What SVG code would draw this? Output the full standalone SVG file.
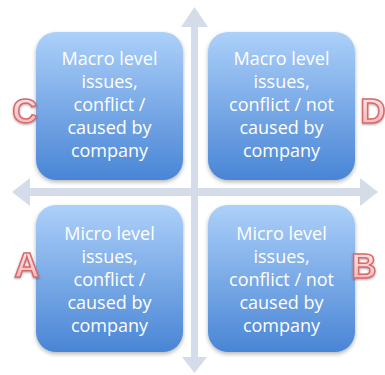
<svg xmlns="http://www.w3.org/2000/svg" width="385" height="375" viewBox="0 0 385 375">
  <defs>
    <linearGradient id="boxFill" x1="0" y1="0" x2="0" y2="1">
      <stop offset="0" stop-color="#acd0f9"/>
      <stop offset="1" stop-color="#4985d5"/>
    </linearGradient>
    <linearGradient id="letterFill" x1="0" y1="0" x2="0" y2="1">
      <stop offset="0" stop-color="#fdeeee"/>
      <stop offset="1" stop-color="#f3b0b2"/>
    </linearGradient>
    <filter id="shadow" x="-10%" y="-10%" width="125%" height="125%">
      <feGaussianBlur in="SourceAlpha" stdDeviation="2"/>
      <feOffset dx="0" dy="2" result="b"/>
      <feComponentTransfer><feFuncA type="linear" slope="0.3"/></feComponentTransfer>
      <feMerge><feMergeNode/><feMergeNode in="SourceGraphic"/></feMerge>
    </filter>
    <filter id="glow" x="-30%" y="-30%" width="160%" height="160%">
      <feGaussianBlur in="SourceAlpha" stdDeviation="1.2"/>
      <feOffset dx="0" dy="1"/>
      <feComponentTransfer><feFuncA type="linear" slope="0.35"/></feComponentTransfer>
      <feMerge><feMergeNode/><feMergeNode in="SourceGraphic"/></feMerge>
    </filter>
  </defs>
  <style>
    .axis { fill: #d3dce8; }
    .box { fill: url(#boxFill); filter: url(#shadow); }
    .label { font-family: "Open Sans", "Liberation Sans", sans-serif; font-size: 18px; fill: #ffffff; text-anchor: middle; }
    .letter { font-family: "Liberation Sans", Arial, sans-serif; font-weight: bold; font-size: 35px; fill: url(#letterFill); stroke: #d8676b; stroke-width: 1.5; text-anchor: middle; filter: url(#glow); }
  </style>

  <!-- axes -->
  <g id="connectors">
    <polygon class="axis" points="194.5,7 208,27 198,27 198,357 207,357 194.5,373 182,357 191,357 191,27 181,27"/>
    <polygon class="axis" points="12,192 30,178 30,188 360,188 360,178 378,192 360,206 360,196 30,196 30,206"/>
  </g>

  <g id="quadrant-c">
    <rect class="box" x="36" y="32" width="147" height="148" rx="20"/>
    <text class="label" x="109.5" y="65">Macro level</text>
    <text class="label" x="109.5" y="88">issues,</text>
    <text class="label" x="109.5" y="111">conflict /</text>
    <text class="label" x="109.5" y="134">caused by</text>
    <text class="label" x="109.5" y="157">company</text>
  </g>

  <g id="quadrant-d">
    <rect class="box" x="208" y="32" width="147" height="148" rx="20"/>
    <text class="label" x="281.5" y="65">Macro level</text>
    <text class="label" x="281.5" y="88">issues,</text>
    <text class="label" x="281.5" y="111">conflict / not</text>
    <text class="label" x="281.5" y="134">caused by</text>
    <text class="label" x="281.5" y="157">company</text>
  </g>

  <g id="quadrant-a">
    <rect class="box" x="36" y="205" width="147" height="147" rx="20"/>
    <text class="label" x="109.5" y="240">Micro level</text>
    <text class="label" x="109.5" y="263">issues,</text>
    <text class="label" x="109.5" y="286">conflict /</text>
    <text class="label" x="109.5" y="309">caused by</text>
    <text class="label" x="109.5" y="332">company</text>
  </g>

  <g id="quadrant-b">
    <rect class="box" x="208" y="205" width="147" height="147" rx="20"/>
    <text class="label" x="281.5" y="240">Micro level</text>
    <text class="label" x="281.5" y="263">issues,</text>
    <text class="label" x="281.5" y="286">conflict / not</text>
    <text class="label" x="281.5" y="309">caused by</text>
    <text class="label" x="281.5" y="332">company</text>
  </g>

  <g id="tag-c"><text class="letter" x="25" y="123">C</text></g>
  <g id="tag-d"><text class="letter" x="373" y="123">D</text></g>
  <g id="tag-a"><text class="letter" x="27" y="277">A</text></g>
  <g id="tag-b"><text class="letter" x="364" y="278">B</text></g>
</svg>
